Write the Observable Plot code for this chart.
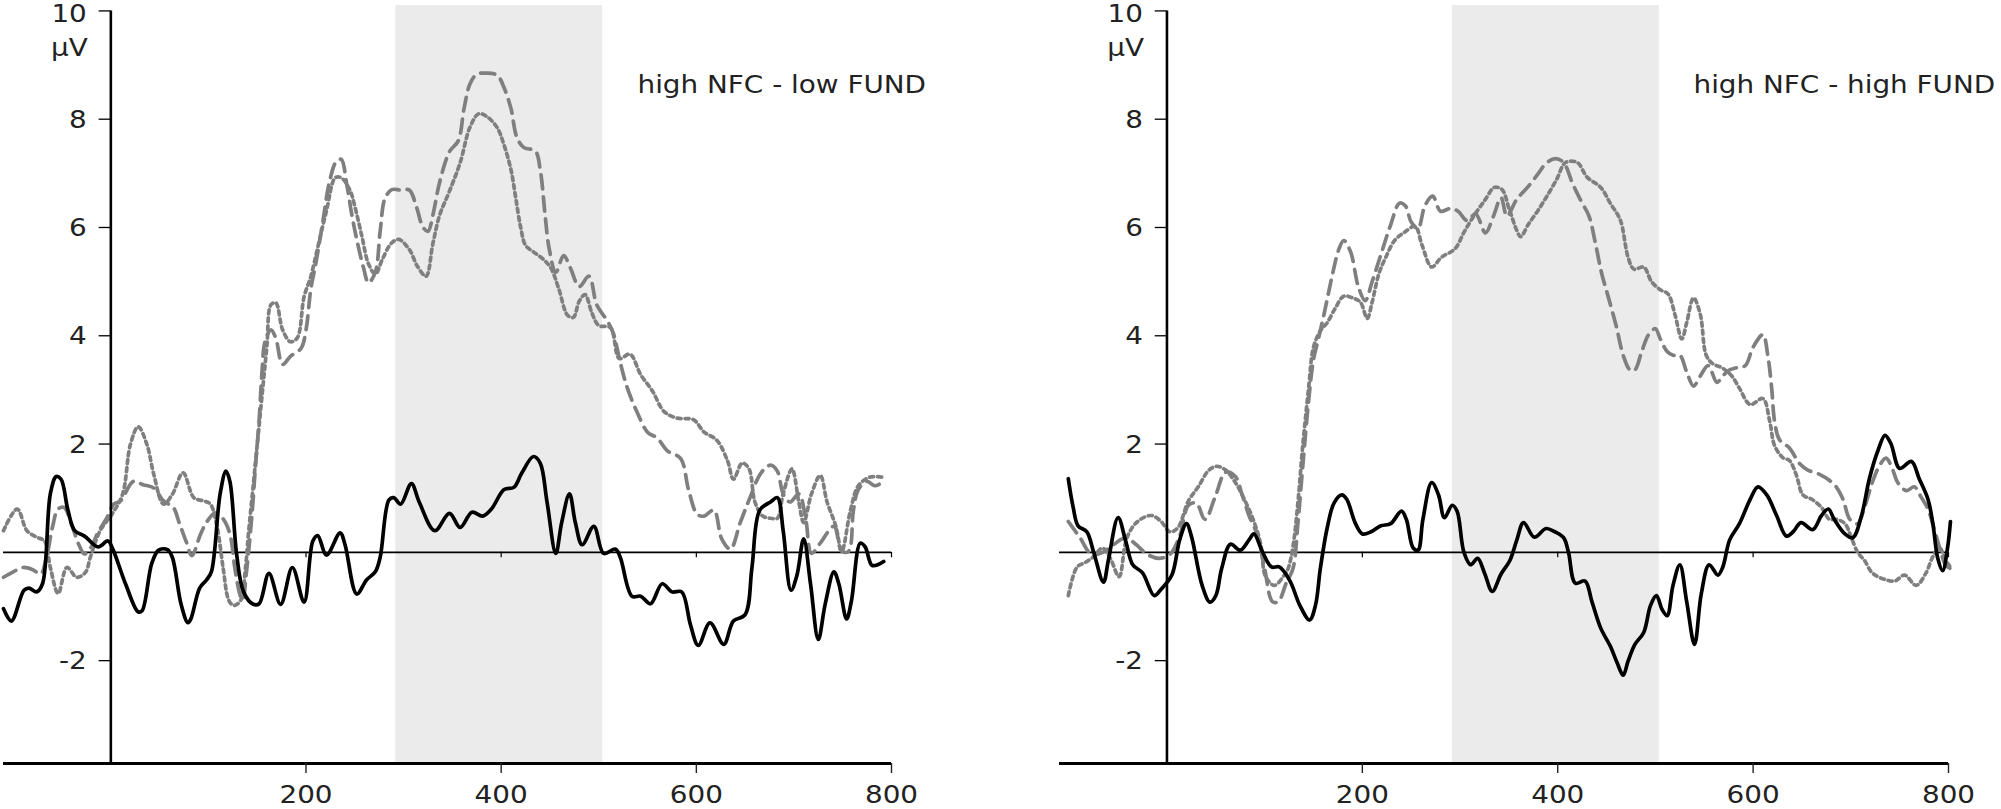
<!DOCTYPE html>
<html>
<head>
<meta charset="utf-8">
<script src="https://cdn.jsdelivr.net/npm/d3@7"></script>
<script src="https://cdn.jsdelivr.net/npm/@observablehq/plot@0.6"></script>
<style>
  html, body { margin: 0; padding: 0; background: #fff; }
  #wrap { position: relative; width: 2001px; height: 809px; overflow: hidden; }
  #wrap > svg { position: absolute; top: 0; }
</style>
</head>
<body>
<div id="wrap"></div>
<script>
// ---------- axes / annotation values ----------
const xDomain = [-110, 800];
const yDomain = [-3.9, 10.1];
const yAxisTop = 10;
const xTicks = [200, 400, 600, 800];
const yTicksTop = [10];
const yTicks = [8, 6, 4, 2, -2];
const unitLabel = "μV";
const windowStart = 292;   // shaded analysis window (ms)
const windowEnd = 504;
const titles = ["high NFC - low FUND", "high NFC - high FUND"];

// ---------- waveforms: [time ms, amplitude μV] ----------
const leftSolid = [[-110,-1.04],[-102,-1.27],[-89,-0.70],[-84,-0.66],[-76,-0.73],[-70,-0.58],[-62,1.08],[-56,1.40],[-51,1.35],[-44,0.78],[-37,0.40],[-27,0.30],[-13,0.10],[-3,0.21],[2,0.06],[15,-0.58],[28,-1.10],[32,-1.08],[42,-0.20],[49,0.04],[58,0.05],[63,-0.09],[72,-0.96],[79,-1.30],[82,-1.23],[91,-0.66],[98,-0.51],[103,-0.36],[112,1.08],[118,1.50],[122,1.31],[129,-0.05],[136,-0.73],[146,-0.96],[152,-0.95],[162,-0.39],[174,-0.96],[186,-0.28],[198,-0.92],[207,0.21],[212,0.31],[221,-0.05],[235,0.36],[240,0.14],[252,-0.77],[262,-0.51],[271,-0.36],[276,-0.09],[285,0.97],[290,1.01],[297,0.89],[308,1.27],[316,0.93],[332,0.40],[347,0.72],[358,0.46],[370,0.74],[381,0.67],[390,0.80],[403,1.16],[413,1.20],[421,1.46],[433,1.77],[440,1.65],[447,0.93],[456,-0.02],[462,0.55],[470,1.08],[476,0.55],[483,0.14],[495,0.48],[505,-0.02],[517,0.06],[522,-0.09],[534,-0.81],[543,-0.81],[553,-0.95],[565,-0.58],[575,-0.73],[585,-0.73],[594,-1.34],[602,-1.72],[614,-1.30],[628,-1.70],[638,-1.27],[650,-1.15],[657,-0.28],[665,0.78],[676,0.93],[683,1.01],[689,0.40],[697,-0.70],[703,-0.43],[710,0.25],[717,-0.58],[725,-1.61],[732,-0.96],[741,-0.36],[746,-0.58],[754,-1.23],[759,-0.89],[768,0.17],[773,0.10],[780,-0.24],[787,-0.22],[792,-0.17]];

const leftDashed = [[-110,-0.46],[-100,-0.36],[-90,-0.28],[-80,-0.32],[-72,-0.40],[-66,-0.10],[-60,0.45],[-54,0.80],[-48,0.83],[-40,0.50],[-33,0.15],[-27,-0.03],[-20,0.10],[-14,0.34],[-4,0.64],[3,0.89],[10,0.95],[23,1.31],[33,1.25],[44,1.19],[54,0.95],[64,0.83],[70,0.55],[77,0.21],[83,-0.06],[92,0.34],[99,0.58],[107,0.73],[115,0.62],[122,0.34],[127,-0.28],[132,-0.76],[135,-0.89],[139,-0.36],[145,0.78],[148,1.54],[152,2.45],[155,3.36],[158,3.89],[164,4.11],[169,3.96],[176,3.47],[184,3.62],[195,3.77],[200,4.11],[205,4.87],[210,5.33],[217,6.08],[224,6.84],[231,7.22],[236,7.26],[242,6.77],[247,6.23],[252,5.78],[259,5.25],[264,4.98],[271,5.17],[276,5.93],[281,6.54],[288,6.70],[297,6.69],[306,6.69],[313,6.39],[320,6.00],[325,5.93],[330,6.23],[337,6.84],[347,7.40],[356,7.60],[362,8.20],[368,8.65],[375,8.83],[385,8.85],[396,8.81],[403,8.58],[410,8.20],[416,7.67],[423,7.48],[435,7.41],[440,7.07],[445,6.23],[449,5.63],[456,5.17],[464,5.48],[471,5.25],[480,4.91],[490,5.10],[498,4.57],[509,4.27],[515,4.04],[522,3.51],[529,3.05],[539,2.60],[550,2.22],[560,2.11],[570,1.88],[584,1.73],[592,1.16],[601,0.70],[608,0.67],[618,0.78],[626,0.25],[635,0.06],[645,0.55],[655,1.01],[666,1.46],[676,1.61],[683,1.50],[689,1.08],[696,0.93],[705,1.08],[712,0.63],[718,-0.02],[727,0.17],[741,0.48],[749,0.02],[756,0.02],[761,0.78],[766,1.16],[775,1.31],[783,1.23],[792,1.31]];

const leftDotted = [[-110,0.40],[-96,0.80],[-86,0.40],[-76,0.28],[-68,0.21],[-62,-0.28],[-54,-0.76],[-45,-0.28],[-35,-0.46],[-26,-0.37],[-21,-0.09],[-11,0.40],[1,0.70],[12,1.07],[20,1.99],[28,2.32],[37,1.99],[44,1.44],[54,0.89],[63,1.07],[74,1.47],[85,1.01],[95,0.95],[102,0.89],[109,0.46],[115,-0.28],[121,-0.89],[126,-0.98],[133,-0.89],[138,-0.28],[141,0.34],[146,1.25],[151,2.17],[156,3.09],[160,3.82],[164,4.57],[169,4.61],[176,4.11],[184,3.89],[191,3.96],[198,4.72],[205,5.10],[212,5.63],[221,6.31],[230,6.92],[236,6.92],[245,6.69],[250,6.39],[257,5.86],[264,5.33],[271,5.14],[278,5.40],[287,5.70],[295,5.78],[306,5.59],[314,5.29],[323,5.10],[330,5.70],[337,6.23],[347,6.67],[358,7.20],[368,7.85],[377,8.10],[386,8.04],[396,7.84],[403,7.52],[410,7.07],[415,6.54],[420,6.00],[425,5.67],[433,5.55],[444,5.40],[451,5.25],[459,4.87],[468,4.38],[474,4.34],[480,4.64],[486,4.76],[493,4.42],[500,4.19],[512,4.15],[521,3.58],[532,3.66],[543,3.28],[555,2.98],[567,2.60],[580,2.48],[597,2.45],[608,2.22],[621,2.07],[632,1.69],[638,1.35],[647,1.65],[654,1.54],[660,0.93],[668,0.67],[676,0.63],[683,0.63],[689,1.08],[698,1.54],[705,0.93],[710,0.55],[718,1.08],[727,1.42],[734,0.93],[743,0.48],[749,0.02],[758,0.78],[766,1.23],[778,1.39],[790,1.39]];

const rightSolid = [[-101,1.36],[-96,0.83],[-91,0.49],[-82,0.38],[-75,0.00],[-65,-0.55],[-60,-0.15],[-50,0.64],[-42,0.19],[-35,-0.23],[-25,-0.38],[-13,-0.80],[-6,-0.68],[5,-0.42],[13,0.23],[20,0.53],[25,0.30],[36,-0.61],[44,-0.92],[50,-0.80],[56,-0.30],[65,0.15],[75,0.04],[84,0.23],[89,0.34],[98,0.00],[107,-0.27],[115,-0.27],[126,-0.53],[136,-0.98],[146,-1.25],[152,-0.98],[157,-0.30],[164,0.45],[171,0.91],[179,1.06],[184,0.98],[193,0.53],[200,0.34],[209,0.38],[219,0.49],[229,0.53],[240,0.76],[245,0.61],[252,0.08],[257,0.04],[262,0.61],[271,1.29],[278,1.06],[284,0.64],[292,0.87],[297,0.76],[304,0.00],[311,-0.23],[318,-0.11],[325,-0.38],[333,-0.72],[342,-0.40],[351,-0.15],[358,0.22],[365,0.55],[376,0.28],[388,0.44],[397,0.38],[406,0.27],[411,0.00],[418,-0.57],[428,-0.53],[435,-0.91],[444,-1.40],[454,-1.74],[461,-2.05],[467,-2.27],[472,-2.01],[479,-1.70],[488,-1.48],[495,-0.98],[501,-0.80],[507,-1.06],[512,-1.17],[518,-0.61],[525,-0.23],[532,-0.91],[540,-1.70],[547,-0.76],[555,-0.23],[564,-0.42],[569,-0.27],[576,0.23],[586,0.53],[597,0.98],[605,1.21],[614,1.06],[624,0.68],[634,0.30],[641,0.38],[649,0.55],[661,0.42],[670,0.68],[677,0.80],[683,0.61],[694,0.34],[702,0.27],[711,0.68],[719,1.36],[728,1.89],[735,2.16],[741,2.01],[750,1.55],[762,1.68],[770,1.36],[779,0.98],[784,0.53],[789,-0.11],[794,-0.34],[799,0.08],[802,0.57]];

const rightDashed = [[-101,0.57],[-89,0.27],[-77,-0.04],[-66,0.00],[-54,0.15],[-42,0.27],[-32,0.15],[-20,-0.04],[-8,-0.11],[3,-0.04],[13,0.30],[22,0.87],[30,0.91],[39,0.61],[50,1.06],[60,1.48],[70,1.40],[77,1.06],[84,0.68],[93,0.30],[100,-0.30],[108,-0.91],[114,-0.91],[122,-0.57],[129,-0.30],[134,0.53],[139,1.59],[145,2.80],[150,3.56],[155,3.94],[162,4.50],[169,5.10],[176,5.60],[181,5.76],[188,5.55],[196,4.90],[203,4.65],[210,5.00],[219,5.50],[229,6.05],[238,6.45],[244,6.40],[250,6.10],[257,5.98],[264,6.40],[272,6.58],[280,6.30],[290,6.35],[298,6.30],[307,6.13],[316,6.25],[326,5.90],[334,6.20],[342,6.55],[348,6.21],[358,6.52],[369,6.74],[379,6.97],[389,7.20],[398,7.27],[406,7.20],[415,6.82],[423,6.52],[432,6.21],[438,5.76],[445,5.15],[452,4.70],[460,4.17],[467,3.64],[474,3.37],[479,3.37],[486,3.71],[493,4.02],[500,4.13],[505,3.94],[512,3.71],[518,3.64],[525,3.64],[532,3.33],[539,3.07],[546,3.26],[554,3.45],[563,3.14],[569,3.26],[576,3.37],[583,3.41],[592,3.45],[600,3.79],[610,4.02],[615,3.64],[619,3.03],[622,2.42],[627,2.08],[637,1.93],[648,1.63],[656,1.52],[668,1.44],[678,1.33],[685,1.21],[692,0.98],[699,0.61],[707,0.53],[714,0.83],[722,1.29],[729,1.59],[736,1.74],[743,1.52],[748,1.29],[757,1.14],[765,1.21],[772,1.02],[779,0.80],[785,0.45],[791,0.08],[797,-0.23],[802,-0.30]];

const rightDotted = [[-101,-0.80],[-92,-0.27],[-84,-0.19],[-75,-0.08],[-66,0.08],[-58,-0.11],[-49,-0.45],[-41,0.27],[-30,0.57],[-16,0.68],[-6,0.57],[3,0.38],[11,0.45],[22,0.95],[32,1.21],[43,1.52],[51,1.59],[60,1.52],[70,1.29],[81,0.91],[89,0.57],[96,0.15],[101,-0.45],[110,-0.61],[119,-0.45],[124,-0.30],[129,0.11],[134,0.91],[139,1.97],[145,3.03],[150,3.79],[157,4.09],[164,4.24],[172,4.50],[181,4.73],[190,4.70],[198,4.62],[205,4.32],[210,4.62],[217,5.15],[224,5.45],[233,5.76],[243,5.91],[254,6.02],[261,5.68],[271,5.27],[281,5.45],[295,5.61],[304,5.91],[314,6.21],[326,6.52],[335,6.74],[343,6.70],[350,6.36],[358,5.95],[362,5.83],[370,6.06],[380,6.32],[390,6.61],[399,6.89],[408,7.20],[420,7.20],[430,6.93],[444,6.74],[454,6.44],[464,6.14],[472,5.45],[478,5.23],[488,5.27],[496,5.00],[505,4.85],[513,4.77],[520,4.39],[527,3.94],[532,4.24],[539,4.70],[546,4.39],[552,3.64],[559,3.48],[568,3.41],[578,3.26],[586,3.03],[597,2.73],[610,2.84],[617,2.42],[622,1.97],[631,1.74],[637,1.70],[644,1.44],[651,1.06],[660,0.98],[670,0.83],[678,0.61],[685,0.61],[694,0.53],[700,0.30],[707,0.00],[714,-0.15],[722,-0.38],[733,-0.49],[745,-0.53],[755,-0.42],[767,-0.61],[777,-0.38],[784,-0.08],[791,0.08],[797,-0.15],[802,-0.27]];

// ---------- styling ----------
const FONT = "DejaVu Sans";
const TICK_FONT = 24;
const TITLE_FONT = 24;
const TEXT_STRETCH = 1.16;  // the reference's lettering is slightly wide
const GREY = "#7f7f7f";
const BAND = "#ebebeb";
const INK = "#222";
const yTickLenMs = 12;     // length of y tick marks expressed in ms
const zeroTickLen = 0.1;   // small ticks under zero line, in μV

function panel({solid, dashed, dotted, title, width, marginLeft, marginRight, left}) {
  const svg = Plot.plot({
    width, height: 809,
    marginLeft, marginRight, marginTop: 5, marginBottom: 46,
    style: {fontFamily: FONT, fontSize: TICK_FONT + "px", color: INK, background: "transparent", overflow: "visible"},
    x: {domain: xDomain, axis: null},
    y: {domain: yDomain, axis: null},
    marks: [
      Plot.rect([{x1: windowStart, x2: windowEnd}], {x1: "x1", x2: "x2", y1: yDomain[0], y2: yDomain[1], fill: BAND}),
      Plot.ruleY([0], {stroke: "#000", strokeWidth: 1.6}),
      Plot.ruleX(xTicks, {y1: 0, y2: -zeroTickLen, stroke: "#000", strokeWidth: 1.2}),
      Plot.line(dotted, {x: d => d[0], y: d => d[1], stroke: GREY, strokeWidth: 3.7, strokeDasharray: "4,4", curve: "catmull-rom"}),
      Plot.line(dashed, {x: d => d[0], y: d => d[1], stroke: GREY, strokeWidth: 3.7, strokeDasharray: "14,8", curve: "catmull-rom"}),
      Plot.line(solid, {x: d => d[0], y: d => d[1], stroke: "#000", strokeWidth: 3.7, curve: "catmull-rom"}),
      // y axis at time 0
      Plot.ruleX([0], {y1: yDomain[0], y2: yAxisTop, stroke: "#000", strokeWidth: 2.6}),
      Plot.ruleY(yTicksTop.concat(yTicks), {x1: -yTickLenMs, x2: 0, stroke: "#000", strokeWidth: 1.3}),
      Plot.text(yTicksTop, {x: 0, y: d => d, text: d => String(d), textAnchor: "end", dx: -24, dy: 3, fontSize: TICK_FONT, fill: INK}),
      Plot.text(yTicks, {x: 0, y: d => d, text: d => String(d), textAnchor: "end", dx: -24, dy: 1, fontSize: TICK_FONT, fill: INK}),
      Plot.text([unitLabel], {x: 0, y: yAxisTop, text: d => d, textAnchor: "end", dx: -23, dy: 37, fontSize: TICK_FONT, fill: INK}),
      // x axis at bottom
      Plot.ruleY([yDomain[0]], {stroke: "#000", strokeWidth: 3}),
      Plot.axisX(xTicks, {anchor: "bottom", tickSize: 10, tickPadding: 12, strokeWidth: 1.4, fontSize: TICK_FONT, fill: INK}),
      Plot.text([title], {frameAnchor: "top-left", textAnchor: "start", lineAnchor: "middle", dx: 634, dy: 80, fontSize: TITLE_FONT, fill: INK})
    ]
  });
  // widen lettering around each text's own anchor point
  d3.select(svg).selectAll("text").each(function() {
    const t = this.getAttribute("transform") || "";
    this.setAttribute("transform", t + ` scale(${TEXT_STRETCH},1)`);
  });
  svg.style.left = left + "px";
  return svg;
}

const wrap = document.getElementById("wrap");
wrap.appendChild(panel({solid: leftSolid, dashed: leftDashed, dotted: leftDotted, title: titles[0], width: 1000, marginLeft: 3, marginRight: 109, left: 0}));
wrap.appendChild(panel({solid: rightSolid, dashed: rightDashed, dotted: rightDotted, title: titles[1], width: 1001, marginLeft: 59, marginRight: 53, left: 1000}));
</script>
</body>
</html>
